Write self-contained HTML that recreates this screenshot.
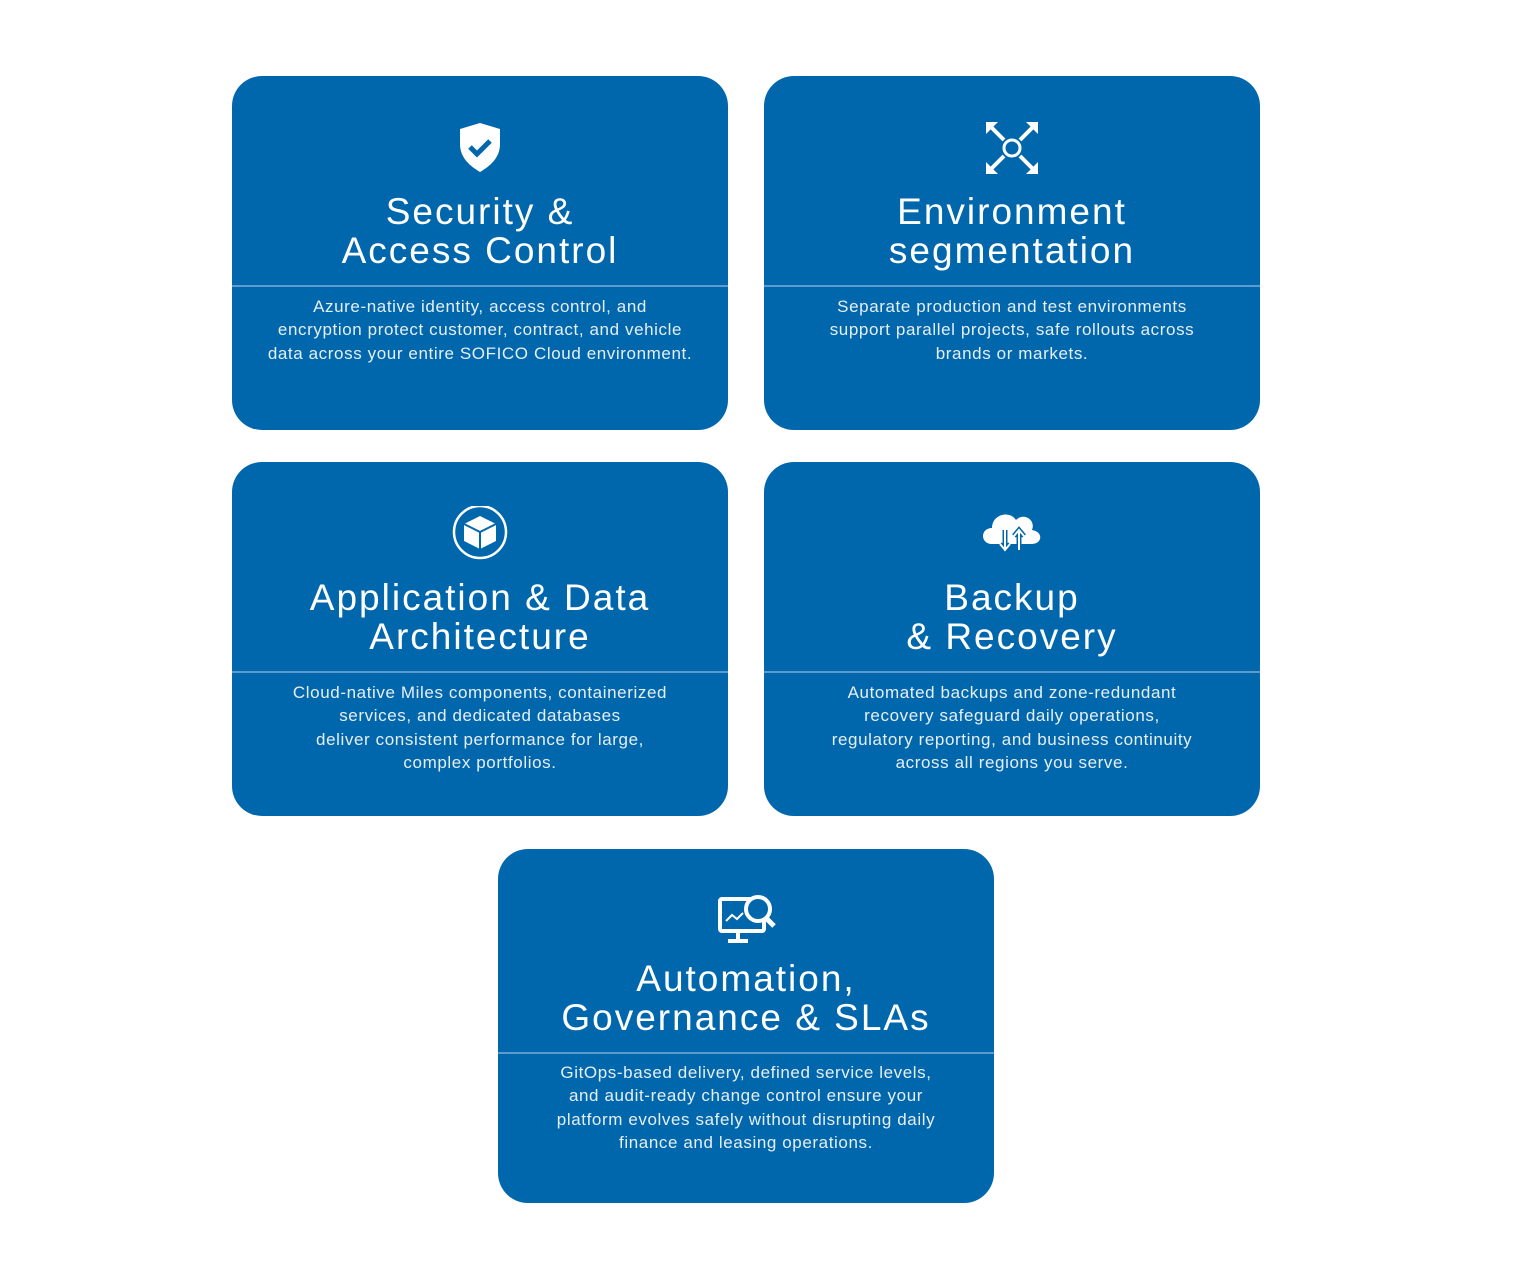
<!DOCTYPE html>
<html><head><meta charset="utf-8"><style>
body{margin:0;width:1536px;height:1279px;background:#fff;position:relative;font-family:"Liberation Sans",sans-serif;overflow:hidden}
.c{position:absolute;width:496px;height:354px;background:#0067ac;border-radius:30px;color:#fff;text-align:center}
.ic{position:absolute;left:0;right:0;top:44px;height:56px}
.t{position:absolute;left:0;right:0;top:116px;font-size:37px;line-height:39px;letter-spacing:2px}
.hr{position:absolute;left:0;right:0;top:209px;height:2px;background:#5d9bcf}
.b{position:absolute;left:5px;right:5px;top:219px;font-size:17px;line-height:23.3px;color:#e6eef6;letter-spacing:.6px}
.c5 .t{top:110px}.c5 .hr{top:203px}.c5 .b{top:212px}
</style></head><body>
<div class="c" style="left:232px;top:76px">
<svg class="ic" viewBox="0 0 496 56"><path d="M248 3 L268 9 V24 C268 38 258 46 248 52 C238 46 228 38 228 24 V9 Z" fill="#fff"/><path d="M238 27 l7 7 13 -13" stroke="#0067ac" stroke-width="5" fill="none"/></svg>
<div class="t">Security &amp;<br>Access Control</div><div class="hr"></div>
<div class="b">Azure-native identity, access control, and<br>encryption protect customer, contract, and vehicle<br>data across your entire SOFICO Cloud environment.</div></div>
<div class="c" style="left:764px;top:76px">
<svg class="ic" viewBox="0 0 496 56"><circle cx="248" cy="28" r="8" stroke="#fff" stroke-width="3" fill="none"/><g stroke="#fff" stroke-width="4"><path d="M240 20 L226 6 M256 20 L270 6 M240 36 L226 50 M256 36 L270 50"/></g><g fill="#fff"><path d="M222 2h12l-12 12z M274 2h-12l12 12z M222 54h12l-12-12z M274 54h-12l12-12z"/></g></svg>
<div class="t">Environment<br>segmentation</div><div class="hr"></div>
<div class="b">Separate production and test environments<br>support parallel projects, safe rollouts across<br>brands or markets.</div></div>
<div class="c" style="left:232px;top:462px">
<svg class="ic" viewBox="0 0 496 56"><circle cx="248" cy="26" r="26" stroke="#fff" stroke-width="2.5" fill="none"/><path d="M248 10 L264 18 V35 L248 43 L232 35 V18 Z" fill="#fff"/><path d="M232 18 L248 26 L264 18 M248 26 V43" stroke="#0067ac" stroke-width="2" fill="none"/></svg>
<div class="t">Application &amp; Data<br>Architecture</div><div class="hr"></div>
<div class="b">Cloud-native Miles components, containerized<br>services, and dedicated databases<br>deliver consistent performance for large,<br>complex portfolios.</div></div>
<div class="c" style="left:764px;top:462px">
<svg class="ic" viewBox="0 0 496 56"><path d="M228 38 C216 38 216 22 228 22 C228 8 246 4 252 14 C260 6 272 14 268 24 C280 26 278 38 268 38 Z" fill="#fff"/><path d="M241 24 V44 M236 38 l5 6 5 -6 M255 44 V24 M250 30 l5 -6 5 6" stroke="#0067ac" stroke-width="5" fill="none"/><path d="M241 24 V44 M236 38 l5 6 5 -6 M255 44 V24 M250 30 l5 -6 5 6" stroke="#fff" stroke-width="2" fill="none"/></svg>
<div class="t">Backup<br>&amp; Recovery</div><div class="hr"></div>
<div class="b">Automated backups and zone-redundant<br>recovery safeguard daily operations,<br>regulatory reporting, and business continuity<br>across all regions you serve.</div></div>
<div class="c c5" style="left:498px;top:849px">
<svg class="ic" viewBox="0 0 496 56"><rect x="222" y="6" width="44" height="32" rx="2" stroke="#fff" stroke-width="4" fill="none"/><path d="M240 38 v8 M230 48 h20" stroke="#fff" stroke-width="4"/><circle cx="260" cy="16" r="12" fill="#0067ac" stroke="#fff" stroke-width="4"/><path d="M268 25 l8 8" stroke="#fff" stroke-width="5"/><path d="M228 28 l6-6 5 4 6-6" stroke="#fff" stroke-width="2" fill="none"/></svg>
<div class="t">Automation,<br>Governance &amp; SLAs</div><div class="hr"></div>
<div class="b">GitOps-based delivery, defined service levels,<br>and audit-ready change control ensure your<br>platform evolves safely without disrupting daily<br>finance and leasing operations.</div></div>
</body></html>
